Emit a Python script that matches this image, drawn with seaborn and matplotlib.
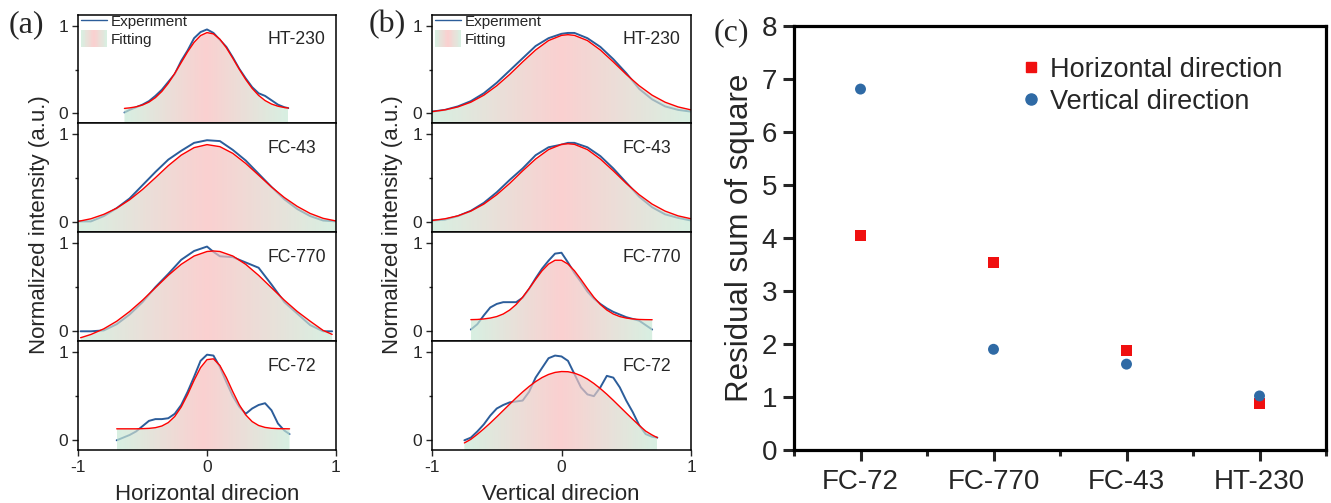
import numpy as np
import pandas as pd
import seaborn as sns
import matplotlib
matplotlib.use("Agg")
import matplotlib.pyplot as plt
from matplotlib.colors import LinearSegmentedColormap
from matplotlib.patches import Rectangle
from matplotlib.lines import Line2D
from matplotlib.legend_handler import HandlerBase

# ---- (a) horizontal profiles ----
a_ht230_x = [-0.64, -0.60, -0.55, -0.50, -0.45, -0.40, -0.35, -0.30, -0.25, -0.20, -0.15, -0.10, -0.05,
             0.00, 0.05, 0.10, 0.15, 0.20, 0.25, 0.30, 0.35, 0.40, 0.45, 0.50, 0.55, 0.60, 0.63]
a_ht230_exp = [0.01, 0.04, 0.07, 0.10, 0.14, 0.20, 0.27, 0.36, 0.45, 0.60, 0.72, 0.86, 0.93,
               0.96, 0.92, 0.84, 0.76, 0.64, 0.51, 0.40, 0.30, 0.23, 0.20, 0.15, 0.10, 0.07, 0.06]
a_ht230_fit = [0.057, 0.063, 0.075, 0.096, 0.129, 0.180, 0.251, 0.344, 0.457, 0.581, 0.705, 0.813, 0.890,
               0.924, 0.909, 0.848, 0.751, 0.631, 0.505, 0.388, 0.286, 0.206, 0.147, 0.107, 0.082, 0.067, 0.061]

a_fc43_x = [-1.0, -0.9, -0.8, -0.7, -0.6, -0.5, -0.4, -0.3, -0.2, -0.1, 0.0,
            0.1, 0.2, 0.3, 0.4, 0.5, 0.6, 0.7, 0.8, 0.9, 1.0]
a_fc43_exp = [0.01, 0.01, 0.07, 0.16, 0.27, 0.42, 0.57, 0.71, 0.81, 0.90, 0.93,
              0.92, 0.82, 0.70, 0.55, 0.40, 0.26, 0.15, 0.07, 0.02, 0.01]
a_fc43_fit = [0.01, 0.04, 0.09, 0.16, 0.255, 0.372, 0.505, 0.642, 0.761, 0.846, 0.880,
              0.857, 0.781, 0.667, 0.534, 0.400, 0.280, 0.180, 0.10, 0.045, 0.015]

a_fc770_x = [-0.98, -0.9, -0.8, -0.7, -0.6, -0.5, -0.4, -0.3, -0.2, -0.1, 0.0, 0.05,
             0.1, 0.2, 0.3, 0.4, 0.5, 0.6, 0.7, 0.8, 0.9, 0.97]
a_fc770_exp = [0.0, 0.0, 0.01, 0.08, 0.19, 0.33, 0.50, 0.65, 0.81, 0.91, 0.96, 0.90,
               0.85, 0.84, 0.78, 0.72, 0.53, 0.33, 0.20, 0.07, 0.0, 0.0]
a_fc770_fit = [-0.073, -0.036, 0.028, 0.114, 0.224, 0.352, 0.493, 0.634, 0.759, 0.853, 0.904, 0.910,
               0.904, 0.853, 0.759, 0.634, 0.493, 0.352, 0.224, 0.114, 0.01, -0.035]

a_fc72_x = [-0.70, -0.65, -0.60, -0.55, -0.50, -0.45, -0.40, -0.35, -0.30, -0.25, -0.20, -0.15, -0.10, -0.05,
            0.00, 0.05, 0.10, 0.15, 0.20, 0.25, 0.30, 0.35, 0.40, 0.45, 0.50, 0.55, 0.60, 0.64]
a_fc72_exp = [0.0, 0.03, 0.06, 0.10, 0.16, 0.22, 0.24, 0.24, 0.25, 0.30, 0.40, 0.55, 0.72, 0.90,
              0.97, 0.96, 0.83, 0.66, 0.50, 0.38, 0.30, 0.36, 0.40, 0.42, 0.34, 0.19, 0.11, 0.07]
a_fc72_fit = [0.130, 0.130, 0.130, 0.130, 0.132, 0.135, 0.143, 0.162, 0.201, 0.270, 0.377, 0.519, 0.680, 0.824,
              0.914, 0.923, 0.847, 0.711, 0.551, 0.403, 0.288, 0.212, 0.168, 0.146, 0.136, 0.132, 0.131, 0.130]

# ---- (b) vertical profiles ----
b_wide_x = [-1.0, -0.9, -0.8, -0.7, -0.6, -0.5, -0.4, -0.3, -0.2, -0.1, 0.0, 0.05,
            0.1, 0.2, 0.3, 0.4, 0.5, 0.6, 0.7, 0.8, 0.9, 1.0]
b_ht230_exp = [0.02, 0.04, 0.08, 0.14, 0.23, 0.35, 0.49, 0.63, 0.77, 0.86, 0.91, 0.92,
               0.92, 0.86, 0.76, 0.62, 0.46, 0.28, 0.16, 0.08, 0.04, 0.02]
b_ht230_fit = [0.020, 0.040, 0.074, 0.128, 0.208, 0.316, 0.446, 0.589, 0.725, 0.833, 0.892, 0.900,
               0.892, 0.833, 0.725, 0.589, 0.446, 0.316, 0.208, 0.128, 0.074, 0.040]
b_fc43_exp = [0.02, 0.03, 0.07, 0.13, 0.22, 0.34, 0.48, 0.61, 0.76, 0.85, 0.88, 0.90,
              0.90, 0.85, 0.75, 0.61, 0.45, 0.29, 0.17, 0.09, 0.05, 0.02]
b_fc43_fit = [0.020, 0.040, 0.073, 0.127, 0.206, 0.313, 0.441, 0.583, 0.717, 0.824, 0.883, 0.890,
              0.883, 0.824, 0.717, 0.583, 0.441, 0.313, 0.206, 0.127, 0.073, 0.040]

b_fc770_x = [-0.70, -0.65, -0.60, -0.55, -0.50, -0.45, -0.40, -0.35, -0.30, -0.25, -0.20, -0.15, -0.10, -0.05,
             0.00, 0.05, 0.10, 0.15, 0.20, 0.25, 0.30, 0.35, 0.40, 0.45, 0.50, 0.55, 0.60, 0.65, 0.70]
b_fc770_exp = [0.02, 0.08, 0.18, 0.27, 0.31, 0.33, 0.33, 0.33, 0.38, 0.48, 0.60, 0.71, 0.80, 0.88,
               0.89, 0.78, 0.66, 0.56, 0.45, 0.37, 0.31, 0.26, 0.22, 0.19, 0.16, 0.14, 0.12, 0.07, 0.02]
b_fc770_fit = [0.132, 0.134, 0.140, 0.150, 0.167, 0.196, 0.241, 0.304, 0.386, 0.484, 0.588, 0.686, 0.762, 0.805,
               0.805, 0.762, 0.686, 0.588, 0.484, 0.386, 0.304, 0.241, 0.196, 0.167, 0.150, 0.140, 0.134, 0.132, 0.131]

b_fc72_x = [-0.75, -0.70, -0.65, -0.60, -0.55, -0.50, -0.45, -0.40, -0.35, -0.30, -0.25, -0.20, -0.15, -0.10, -0.05,
            0.00, 0.05, 0.10, 0.15, 0.20, 0.25, 0.30, 0.35, 0.40, 0.45, 0.50, 0.55, 0.60, 0.65, 0.70, 0.74]
b_fc72_exp = [0.0, 0.03, 0.10, 0.18, 0.28, 0.36, 0.40, 0.43, 0.44, 0.45, 0.55, 0.71, 0.82, 0.93, 0.96,
              0.95, 0.90, 0.75, 0.60, 0.52, 0.50, 0.60, 0.73, 0.71, 0.60, 0.45, 0.32, 0.17, 0.07, 0.04, 0.03]
b_fc72_fit = [-0.03, 0.011, 0.068, 0.130, 0.196, 0.266, 0.338, 0.410, 0.481, 0.548, 0.610, 0.665, 0.711, 0.746, 0.769,
              0.779, 0.777, 0.761, 0.733, 0.694, 0.644, 0.586, 0.522, 0.453, 0.381, 0.309, 0.238, 0.169, 0.104, 0.06, 0.03]

# ---- (c) residual sum of square ----
fluids = ["FC-72", "FC-770", "FC-43", "HT-230"]
rss_horizontal = [4.04, 3.53, 1.87, 0.87]
rss_vertical = [6.81, 1.90, 1.62, 1.02]

BLUE = "#2c5d9a"
RED = "#ff0000"
grad_cmap = LinearSegmentedColormap.from_list("fitfill", ["#c7ead6", "#f9bcbc", "#c7ead6"])
FILL_ALPHA = 0.7

sns.set_theme(style="ticks")
plt.rcParams["font.family"] = ["Liberation Sans", "DejaVu Sans"]
plt.rcParams["axes.linewidth"] = 1.1
plt.rcParams["axes.edgecolor"] = "black"

W, H = 1331, 503
fig = plt.figure(figsize=(W / 100, H / 100), dpi=100)


def px_axes(left, top, right, bottom):
    return fig.add_axes([left / W, 1 - bottom / H, (right - left) / W, (bottom - top) / H])


class GradientHandler(HandlerBase):
    def create_artists(self, legend, orig_handle, xdescent, ydescent, width, height, fontsize, trans):
        n = 30
        arts = []
        for i in range(n):
            r = Rectangle((-xdescent + i * width / n, -ydescent - 0.3 * height), width / n * 1.05, 1.6 * height,
                          facecolor=grad_cmap((i + 0.5) / n), edgecolor="none", alpha=FILL_ALPHA, transform=trans)
            arts.append(r)
        return arts


def draw_profile(ax, xs, exp, fit, name, bottom_axis):
    ybot, ytop = -0.11, 1.125
    sns.lineplot(x=xs, y=exp, ax=ax, color=BLUE, linewidth=1.4, sort=False, estimator=None, zorder=1)
    poly = ax.fill_between(xs, ybot, fit, facecolor="none", edgecolor="none")
    grad = np.linspace(0, 1, 256)[None, :]
    im = ax.imshow(grad, extent=[xs[0], xs[-1], ybot, ytop], aspect="auto", cmap=grad_cmap,
                   alpha=FILL_ALPHA, zorder=2, interpolation="bilinear")
    im.set_clip_path(poly.get_paths()[0], transform=ax.transData)
    sns.lineplot(x=xs, y=fit, ax=ax, color=RED, linewidth=1.0, sort=False, estimator=None, zorder=3)
    ax.set_xlim(-1, 1)
    ax.set_ylim(ybot, ytop)
    ax.set_yticks([0, 1])
    ax.set_yticklabels(["0", "1"])
    ax.set_yticks([0.5], minor=True)
    ax.tick_params(axis="y", which="major", length=4, width=1, labelsize=12.5, pad=3, direction="out")
    ax.tick_params(axis="y", which="minor", length=2.5, width=1, direction="out")
    if bottom_axis:
        ax.set_xticks([-1, 0, 1])
        ax.set_xticklabels(["-1", "0", "1"])
        ax.tick_params(axis="x", length=4, width=1, labelsize=12.5, pad=3, direction="out")
    else:
        ax.set_xticks([])
    ax.set_xlabel("")
    ax.set_ylabel("")
    for sp in ax.spines.values():
        sp.set_visible(True)
        sp.set_linewidth(1.1)
        sp.set_zorder(5)
    t = ax.text(0.735, 0.77, name, transform=ax.transAxes, fontsize=12.7, ha="left", va="center", zorder=6)
    t.set_clip_path(Rectangle((0, 0), 0.969, 1, transform=ax.transAxes))


row_tops = [15, 123, 232, 341]
row_bottoms = [123, 232, 341, 450]
names = ["HT-230", "FC-43", "FC-770", "FC-72"]

a_series = [(a_ht230_x, a_ht230_exp, a_ht230_fit), (a_fc43_x, a_fc43_exp, a_fc43_fit),
            (a_fc770_x, a_fc770_exp, a_fc770_fit), (a_fc72_x, a_fc72_exp, a_fc72_fit)]
b_series = [(b_wide_x, b_ht230_exp, b_ht230_fit), (b_wide_x, b_fc43_exp, b_fc43_fit),
            (b_fc770_x, b_fc770_exp, b_fc770_fit), (b_fc72_x, b_fc72_exp, b_fc72_fit)]

for (left, right, series) in [(78, 336, a_series), (432, 691, b_series)]:
    for i in range(4):
        ax = px_axes(left, row_tops[i], right, row_bottoms[i])
        xs, exp, fit = series[i]
        draw_profile(ax, xs, exp, fit, names[i], i == 3)
        if i == 0:
            handles = [Line2D([], [], color=BLUE, lw=1.0), Rectangle((0, 0), 1, 1)]
            ax.legend(handles, ["Experiment", "Fitting"], loc="upper left", bbox_to_anchor=(0.0, 1.03),
                      frameon=False, fontsize=11, handlelength=1.7, handletextpad=0.25,
                      labelspacing=0.25, borderaxespad=0, borderpad=0.2,
                      handler_map={Rectangle: GradientHandler()})

fig.text(40 / W, 1 - 225 / H, "Normalized intensity (a.u.)", rotation=90, ha="center", va="center", fontsize=16)
fig.text(393 / W, 1 - 225 / H, "Normalized intensity (a.u.)", rotation=90, ha="center", va="center", fontsize=16)
fig.text(207 / W, 1 - 494 / H, "Horizontal direcion", ha="center", va="center", fontsize=16)
fig.text(561 / W, 1 - 494 / H, "Vertical direcion", ha="center", va="center", fontsize=16)

serif = ["Liberation Serif", "DejaVu Serif"]
fig.text(26 / W, 1 - 25 / H, "(a)", ha="center", va="center", fontsize=23, family=serif)
fig.text(387 / W, 1 - 25 / H, "(b)", ha="center", va="center", fontsize=23, family=serif)
fig.text(731 / W, 1 - 33 / H, "(c)", ha="center", va="center", fontsize=23, family=serif)

# ---- panel (c) ----
axc = px_axes(794, 26, 1326, 450)
df = pd.DataFrame({
    "fluid": fluids + fluids,
    "rss": rss_horizontal + rss_vertical,
    "direction": ["Horizontal direction"] * 4 + ["Vertical direction"] * 4,
})
sns.scatterplot(data=df, x="fluid", y="rss", hue="direction", style="direction",
                markers={"Horizontal direction": "s", "Vertical direction": "o"},
                palette={"Horizontal direction": "#f01010", "Vertical direction": "#2f6aa5"},
                s=62, edgecolor="none", linewidth=0, legend=False, ax=axc, zorder=3)
axc.set_xlim(-0.5, 3.5)
axc.set_ylim(0, 8)
axc.set_xticks(range(4))
axc.set_xticklabels(fluids)
axc.set_xticks([-0.5, 0.5, 1.5, 2.5, 3.5], minor=True)
axc.set_yticks(range(9))
axc.set_yticklabels([str(v) for v in range(9)])
axc.tick_params(axis="both", which="major", length=8, width=2.2, labelsize=20, direction="out")
axc.tick_params(axis="x", which="major", pad=6)
axc.tick_params(axis="y", which="major", pad=4)
axc.tick_params(axis="x", which="minor", length=4, width=2.2, direction="out")
for sp in axc.spines.values():
    sp.set_visible(True)
    sp.set_linewidth(2.3)
axc.set_xlabel("")
axc.set_ylabel("Residual sum of square", fontsize=22.5, labelpad=5)
leg_handles = [Line2D([], [], marker="s", ls="", color="#f01010", markersize=7.5),
               Line2D([], [], marker="o", ls="", color="#2f6aa5", markersize=8)]
axc.legend(leg_handles, ["Horizontal direction", "Vertical direction"], loc="upper left",
           bbox_to_anchor=(0.40, 0.953), frameon=False, fontsize=19.5, handletextpad=0.2,
           labelspacing=0.22, handlelength=1.0, borderaxespad=0)

fig.savefig("out.png", dpi=100)
